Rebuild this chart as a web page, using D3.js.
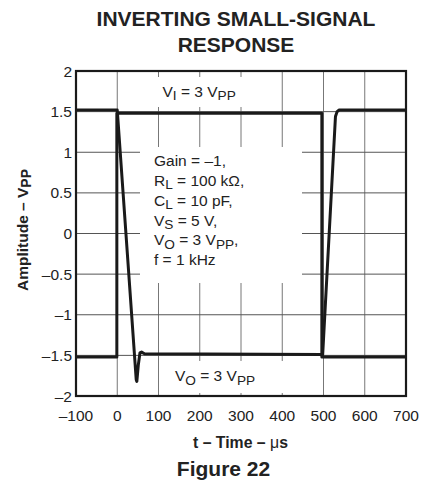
<!DOCTYPE html>
<html>
<head>
<meta charset="utf-8">
<script src="https://cdn.jsdelivr.net/npm/d3@7"></script>
<style>
  html, body { margin: 0; padding: 0; background: #fff; }
  svg { display: block; font-family: "Liberation Sans", Arial, sans-serif; }
</style>
</head>
<body>
<svg id="chart" width="424" height="482"></svg>
<script>
// ---- data ----
const xTicks = [-100, 0, 100, 200, 300, 400, 500, 600, 700];
const yTicks = [-2, -1.5, -1, -0.5, 0, 0.5, 1, 1.5, 2];
const yTickLabels = ["–2", "–1.5", "–1", "–0.5", "0", "0.5", "1", "1.5", "2"];
const xTickLabels = ["–100", "0", "100", "200", "300", "400", "500", "600", "700"];

// input square wave (V_I)
const inTime = [-100, -1, -1, 496, 496, 700];
const inAmp  = [-1.52, -1.52, 1.48, 1.48, -1.52, -1.52];

// output (V_O), inverted, slew limited
const outTime = [-100, 0, 46, 47.5, 51, 55, 59, 66, 498, 529, 533, 538, 700];
const outAmp  = [1.52, 1.52, -1.80, -1.82, -1.62, -1.47, -1.46, -1.48, -1.49, 1.44, 1.50, 1.52, 1.52];

const annotGain = [
  [["Gain = –1,", 0]],
  [["R", 0], ["L", 1], [" = 100 kΩ,", 0]],
  [["C", 0], ["L", 1], [" = 10 pF,", 0]],
  [["V", 0], ["S", 1], [" = 5 V,", 0]],
  [["V", 0], ["O", 1], [" = 3 V", 0], ["PP", 1], [",", 0]],
  [["f = 1 kHz", 0]]
];

// ---- layout ----
const svg = d3.select("#chart");
const x = d3.scaleLinear().domain([-100, 700]).range([76, 406]);
const y = d3.scaleLinear().domain([-2, 2]).range([396, 71]);

// grid
const g = svg.append("g");
g.selectAll("line.v").data(xTicks.slice(1, -1)).join("line")
  .attr("x1", d => x(d)).attr("x2", d => x(d))
  .attr("y1", y(2)).attr("y2", y(-2))
  .attr("stroke", "#777").attr("stroke-width", 1);
g.selectAll("line.h").data(yTicks.slice(1, -1)).join("line")
  .attr("x1", x(-100)).attr("x2", x(700))
  .attr("y1", d => y(d)).attr("y2", d => y(d))
  .attr("stroke", "#555").attr("stroke-width", 1);

// white label boxes (grid gaps)
const boxes = [
  {x0: 150, x1: 272, y0: 77, y1: 107},
  {x0: 140, x1: 302, y0: 147, y1: 283},
  {x0: 165, x1: 286, y0: 361, y1: 393}
];
svg.selectAll("rect.box").data(boxes).join("rect")
  .attr("x", d => d.x0).attr("y", d => d.y0)
  .attr("width", d => d.x1 - d.x0).attr("height", d => d.y1 - d.y0)
  .attr("fill", "#fff");

// traces
const line = d3.line().x(d => x(d[0])).y(d => y(d[1]));
const inData = inTime.map((t, i) => [t, inAmp[i]]);
const outData = outTime.map((t, i) => [t, outAmp[i]]);
[inData, outData].forEach(dd => {
  svg.append("path").datum(dd).attr("d", line)
    .attr("fill", "none").attr("stroke", "#1a1a1a")
    .attr("stroke-width", 3).attr("stroke-linejoin", "round");
});

// frame
svg.append("rect").attr("x", x(-100)).attr("y", y(2))
  .attr("width", x(700) - x(-100)).attr("height", y(-2) - y(2))
  .attr("fill", "none").attr("stroke", "#1a1a1a").attr("stroke-width", 2.2);

// tick labels
svg.selectAll("text.yt").data(yTicks).join("text")
  .attr("x", 72).attr("y", d => y(d) + 5.5)
  .attr("text-anchor", "end").attr("font-size", 15.5).attr("fill", "#222")
  .text((d, i) => yTickLabels[i]);
svg.selectAll("text.xt").data(xTicks).join("text")
  .attr("x", d => x(d)).attr("y", 420.5)
  .attr("text-anchor", "middle").attr("font-size", 15.5).attr("fill", "#222")
  .text((d, i) => xTickLabels[i]);

// helper for text with subscripts
function richText(sel, parts, size) {
  let shifted = false;
  parts.forEach(([s, sub]) => {
    const ts = sel.append("tspan").text(s).attr("font-size", sub ? size * 0.88 : size);
    if (sub && !shifted) { ts.attr("dy", 3.5); shifted = true; }
    else if (!sub && shifted) { ts.attr("dy", -3.5); shifted = false; }
  });
}

// annotations
richText(svg.append("text").attr("x", 162.5).attr("y", 96.5).attr("fill", "#222"),
  [["V", 0], ["I", 1], [" = 3 V", 0], ["PP", 1]], 15.5);
richText(svg.append("text").attr("x", 175).attr("y", 381).attr("fill", "#222"),
  [["V", 0], ["O", 1], [" = 3 V", 0], ["PP", 1]], 15.5);
const gainBase = [165.5, 185.5, 205.5, 225.5, 245.3, 265];
annotGain.forEach((parts, i) => {
  richText(svg.append("text").attr("x", 154).attr("y", gainBase[i]).attr("fill", "#222"), parts, 15.5);
});

// titles
svg.append("text").attr("x", 236).attr("y", 25.5).attr("text-anchor", "middle")
  .attr("font-size", 21).attr("font-weight", "bold").attr("fill", "#222")
  .text("INVERTING SMALL-SIGNAL");
svg.append("text").attr("x", 236).attr("y", 51.5).attr("text-anchor", "middle")
  .attr("font-size", 21).attr("font-weight", "bold").attr("fill", "#222")
  .text("RESPONSE");

const xt = svg.append("text").attr("x", 240.5).attr("y", 447.5).attr("text-anchor", "middle")
  .attr("font-size", 15.8).attr("font-weight", "bold").attr("fill", "#222");
xt.append("tspan").text("t – Time – ");
xt.append("tspan").attr("font-weight", "normal").text("μ");
xt.append("tspan").text("s");

svg.append("text").attr("x", 223.5).attr("y", 476).attr("text-anchor", "middle")
  .attr("font-size", 21).attr("font-weight", "bold").attr("fill", "#222")
  .text("Figure 22");

const yt = svg.append("text").attr("transform", "translate(27.5,230) rotate(-90)")
  .attr("text-anchor", "middle").attr("font-size", 15.5).attr("font-weight", "bold").attr("fill", "#222");
yt.append("tspan").text("Amplitude – V");
yt.append("tspan").attr("dy", 3.5).attr("font-size", 14).text("PP");
</script>
</body>
</html>
